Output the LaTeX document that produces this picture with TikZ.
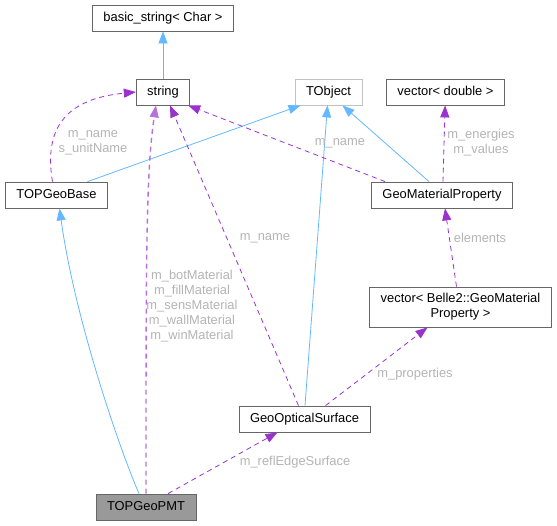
\documentclass[tikz,border=0pt]{standalone}
\usepackage{fontspec}
\setmainfont{Liberation Sans}
\usepackage{tikz}
\usetikzlibrary{calc}
\usetikzlibrary{positioning}
\usetikzlibrary{arrows.meta}
\definecolor{inhblue}{HTML}{63B8FF}
\definecolor{usepurple}{HTML}{9A32CD}
\definecolor{lblgray}{HTML}{B4B4B4}
\definecolor{boxgray}{HTML}{666666}
\tikzstyle{classbox} = [draw=boxgray, rectangle, fill=white, inner xsep=11pt, align=center]
\tikzstyle{classnode} = [classbox, minimum height=26pt, text height=1.5ex, text depth=.25ex]
\tikzstyle{inherit} = [color=inhblue, ->]
\tikzstyle{usage} = [color=usepurple, dash pattern=on 5pt off 4pt, ->]
\tikzstyle{lbl} = [text=lblgray, align=center]

\begin{document}
\begin{tikzpicture}[x=1pt, y=-1pt, line width=0.8pt,
    >={Triangle[length=12pt,width=9pt]},
    font=\fontsize{12.9}{15}\selectfont]
  \useasboundingbox (0,0) rectangle (557,525);

  \node[classnode] (basic) at (163,18) {basic\_string< Char >};
  \node[classnode] (str) at (163,92) {string};
  \node[classnode, draw=boxgray!40] (tobj) at (328.5,92) {TObject};
  \node[classnode] (vecd) at (445.5,92) {vector< double >};
  \node[classnode] (geobase) at (56.5,195) {TOPGeoBase};
  \node[classnode] (matprop) at (442,195) {GeoMaterialProperty};
  \node[classbox, minimum height=40pt, inner ysep=3pt] (vecgm) at (460.5,307) {vector< Belle2::GeoMaterial\\Property >};
  \node[classnode] (optsurf) at (304.5,419) {GeoOpticalSurface};
  \node[classnode, fill=black!40] (pmt) at (146,507) {TOPGeoPMT};

  \draw[inherit] (str) -- (basic);
  \draw[inherit] ($(geobase.north)+(31,0)$) -- ($(tobj.south)+(-28,0)$);
  \draw[inherit] ($(optsurf.north)+(0.5,0)$) -- ($(tobj.south)+(-1,0)$);
  \draw[inherit] ($(matprop.north)+(-13,0)$) -- ($(tobj.south)+(14,0)$);
  \draw[inherit] ($(pmt.north)+(-7,0)$) .. controls (120,450) and (75,320) .. ($(geobase.south)+(3,0)$);

  \draw[usage] ($(geobase.north)+(-4,0)$) .. controls (42,120) and (75,98) .. (str.west);
  \draw[usage, line width=1.4pt, color=usepurple!70] (pmt.north) .. controls (146,260) and (146,170) .. ($(str.south)+(-7,0)$);
  \draw[usage] ($(optsurf.north)+(-6,0)$) -- ($(str.south)+(7,0)$);
  \draw[usage] ($(matprop.north west)+(14,0)$) -- ($(str.south east)+(-2,0)$);
  \draw[usage] ($(matprop.north)+(1,0)$) -- (vecd);
  \draw[usage] ($(vecgm.north)+(-4,0)$) -- ($(matprop.south)+(3,0)$);
  \draw[usage] ($(optsurf.north)+(21,0)$) -- ($(vecgm.south)+(-33,0)$);
  \draw[usage] ($(pmt.north)+(22,0)$) -- ($(optsurf.south)+(-27,0)$);

  \node[lbl] (l_geobase) at (93,143) {m\_name\\s\_unitName};
  \node[lbl] (l_pmt) at (192,306) {m\_botMaterial\\m\_fillMaterial\\m\_sensMaterial\\m\_wallMaterial\\m\_winMaterial};
  \node[lbl] (l_optsurf) at (265,238) {m\_name};
  \node[lbl] (l_matprop) at (340,143) {m\_name};
  \node[lbl] (l_vecd) at (481,143) {m\_energies\\m\_values};
  \node[lbl] (l_vecgm) at (480,238) {elements};
  \node[lbl] (l_props) at (415,374) {m\_properties};
  \node[lbl] (l_refl) at (295,462) {m\_reflEdgeSurface};
\end{tikzpicture}
\end{document}
